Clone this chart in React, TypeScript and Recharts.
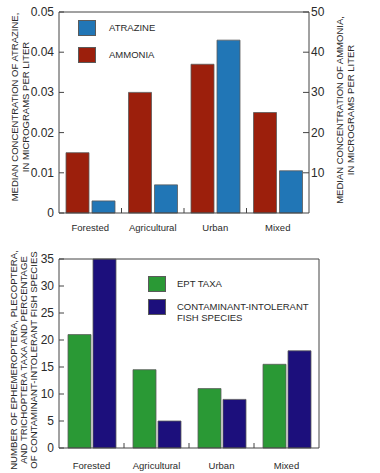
import React from 'react';
import { BarChart, Bar, XAxis, YAxis, ReferenceLine } from 'recharts';

const landUse = ['Forested', 'Agricultural', 'Urban', 'Mixed'];
const atrazine = [0.003, 0.007, 0.043, 0.0105];
const ammonia = [15, 30, 37, 25];
const eptTaxa = [21, 14.5, 11, 15.5];
const intolerantFish = [35, 5, 9, 18];

const atrazineTicks = [0, 0.01, 0.02, 0.03, 0.04, 0.05];
const ammoniaTicks = [10, 20, 30, 40, 50];
const bioTicks = [0, 5, 10, 15, 20, 25, 30, 35];

const topSeries = [
  { key: 'atrazine', name: 'ATRAZINE', color: '#2176b6' },
  { key: 'ammonia', name: 'AMMONIA', color: '#9c1f0c' },
];
const bottomSeries = [
  { key: 'ept', name: 'EPT TAXA', color: '#2a9935' },
  { key: 'fish', name: 'CONTAMINANT-INTOLERANT\nFISH SPECIES', color: '#1c0f7c' },
];

const topData = landUse.map((name, i) => ({ name, atrazine: atrazine[i], ammonia: ammonia[i] }));
const bottomData = landUse.map((name, i) => ({ name, ept: eptTaxa[i], fish: intolerantFish[i] }));

const FONT = '"Liberation Sans", Arial, Helvetica, sans-serif';
const AXIS = '#444';
const TEXT = '#2a2a2a';
const BAR_STROKE = '#5a5a5a';

const LeftTick = ({ x, y, payload, fmt }: any) => (
  <g>
    <line x1={x} x2={x + 5} y1={y} y2={y} stroke={AXIS} />
    <text x={x - 5} y={y} textAnchor="end" dominantBaseline="central" fontSize={12} fill={TEXT} fontFamily={FONT}>
      {fmt ? fmt(payload.value) : payload.value}
    </text>
  </g>
);

const RightTick = ({ x, y, payload, showLabel }: any) => (
  <g>
    <line x1={x} x2={x - 6} y1={y} y2={y} stroke={AXIS} />
    {showLabel && (
      <text x={x + 2} y={y} textAnchor="start" dominantBaseline="central" fontSize={12} fill={TEXT} fontFamily={FONT}>
        {payload.value}
      </text>
    )}
  </g>
);

const CatTick = ({ x, y, payload, index, visibleTicksCount, labelDy }: any) => (
  <g>
    {index < visibleTicksCount - 1 && (
      <line x1={x + payload.offset} x2={x + payload.offset} y1={y} y2={y - 5} stroke={AXIS} />
    )}
    <text x={x} y={y + labelDy} textAnchor="middle" dominantBaseline="central" fontSize={9.5} fill={TEXT} fontFamily={FONT}>
      {payload.value}
    </text>
  </g>
);

const AxisTitle = ({ lines, xs, cy, size }: any) => (
  <g>
    {lines.map((line: string, i: number) => (
      <text
        key={i}
        x={xs[i]}
        y={cy}
        transform={`rotate(-90 ${xs[i]} ${cy})`}
        textAnchor="middle"
        dominantBaseline="central"
        fontSize={size}
        fill={TEXT}
        fontFamily={FONT}
      >
        {line}
      </text>
    ))}
  </g>
);

const LegendBlock = ({ items, left, top, textLeft, rowGap }: any) => (
  <div style={{ position: 'absolute', left, top, fontFamily: FONT, fontSize: 9.5, color: TEXT }}>
    {items.map((s: any, i: number) => (
      <div key={s.key} style={{ position: 'absolute', left: 0, top: i * rowGap, width: 260 }}>
        <div
          style={{
            position: 'absolute',
            left: 0,
            top: 0,
            width: 18,
            height: 16,
            background: s.color,
            boxSizing: 'border-box',
            border: `1px solid ${BAR_STROKE}`,
          }}
        />
        <div style={{ position: 'absolute', left: textLeft, top: 2, lineHeight: '11px', whiteSpace: 'pre' }}>{s.name}</div>
      </div>
    ))}
  </div>
);

export default function App() {
  return (
    <div style={{ position: 'absolute', left: 0, top: 0, width: 380, height: 473, background: '#fff' }}>
      <div style={{ position: 'absolute', left: 0, top: 0 }}>
        <BarChart
          width={380}
          height={240}
          data={topData}
          margin={{ top: 12, right: 0, bottom: 0, left: 0 }}
          barCategoryGap={7}
          barGap={3}
        >
          <XAxis
            dataKey="name"
            height={27}
            axisLine={{ stroke: AXIS }}
            tickLine={false}
            tickSize={0}
            tickMargin={0}
            tick={<CatTick labelDy={14} />}
            interval={0}
          />
          <YAxis
            yAxisId="left"
            width={59}
            domain={[0, 0.05]}
            ticks={atrazineTicks}
            axisLine={{ stroke: AXIS }}
            tickLine={false}
            tickSize={0}
            tickMargin={0}
            tick={<LeftTick fmt={(v: number) => (v === 0 ? '0' : v.toFixed(2))} />}
            label={
              <AxisTitle
                lines={['MEDIAN CONCENTRATION OF ATRAZINE,', 'IN MICROGRAMS PER LITER']}
                xs={[14, 25]}
                cy={107}
                size={9.5}
              />
            }
          />
          <YAxis
            yAxisId="right"
            orientation="right"
            width={71}
            domain={[0, 50]}
            ticks={ammoniaTicks}
            axisLine={{ stroke: AXIS }}
            tickLine={false}
            tickSize={0}
            tickMargin={0}
            tick={<RightTick showLabel />}
            label={
              <AxisTitle
                lines={['MEDIAN CONCENTRATION OF AMMONIA,', 'IN MICROGRAMS PER LITER']}
                xs={[339, 350]}
                cy={110}
                size={9.5}
              />
            }
          />
          <ReferenceLine yAxisId="left" y={0.05} stroke={AXIS} />
          <Bar yAxisId="right" dataKey="ammonia" fill={topSeries[1].color} stroke={BAR_STROKE} strokeWidth={0.8} isAnimationActive={false} />
          <Bar yAxisId="left" dataKey="atrazine" fill={topSeries[0].color} stroke={BAR_STROKE} strokeWidth={0.8} isAnimationActive={false} />
        </BarChart>
        <LegendBlock items={topSeries} left={78} top={20} textLeft={31} rowGap={27} />
      </div>

      <div style={{ position: 'absolute', left: 0, top: 240 }}>
        <BarChart
          width={380}
          height={233}
          data={bottomData}
          margin={{ top: 19, right: 0, bottom: 0, left: 0 }}
          barCategoryGap={9}
          barGap={2}
        >
          <XAxis
            dataKey="name"
            height={25}
            axisLine={{ stroke: AXIS }}
            tickLine={false}
            tickSize={0}
            tickMargin={0}
            tick={<CatTick labelDy={17} />}
            interval={0}
          />
          <YAxis
            yAxisId="left"
            width={59}
            domain={[0, 35]}
            ticks={bioTicks}
            axisLine={{ stroke: AXIS }}
            tickLine={false}
            tickSize={0}
            tickMargin={0}
            tick={<LeftTick />}
            label={
              <AxisTitle
                lines={[
                  'NUMBER OF EPHEMEROPTERA, PLECOPTERA,',
                  'AND TRICHOPTERA TAXA AND PERCENTAGE',
                  'OF CONTAMINANT-INTOLERANT FISH SPECIES',
                ]}
                xs={[13, 23, 33]}
                cy={120}
                size={9.6}
              />
            }
          />
          <YAxis
            yAxisId="right"
            orientation="right"
            width={61}
            domain={[0, 35]}
            ticks={bioTicks}
            axisLine={{ stroke: AXIS }}
            tickLine={false}
            tickSize={0}
            tickMargin={0}
            tick={<RightTick />}
          />
          <ReferenceLine yAxisId="left" y={35} stroke={AXIS} />
          <Bar yAxisId="left" dataKey="ept" fill={bottomSeries[0].color} stroke={BAR_STROKE} strokeWidth={0.8} isAnimationActive={false} />
          <Bar yAxisId="left" dataKey="fish" fill={bottomSeries[1].color} stroke={BAR_STROKE} strokeWidth={0.8} isAnimationActive={false} />
        </BarChart>
        <LegendBlock items={bottomSeries} left={148} top={36} textLeft={29} rowGap={23} />
      </div>
    </div>
  );
}
